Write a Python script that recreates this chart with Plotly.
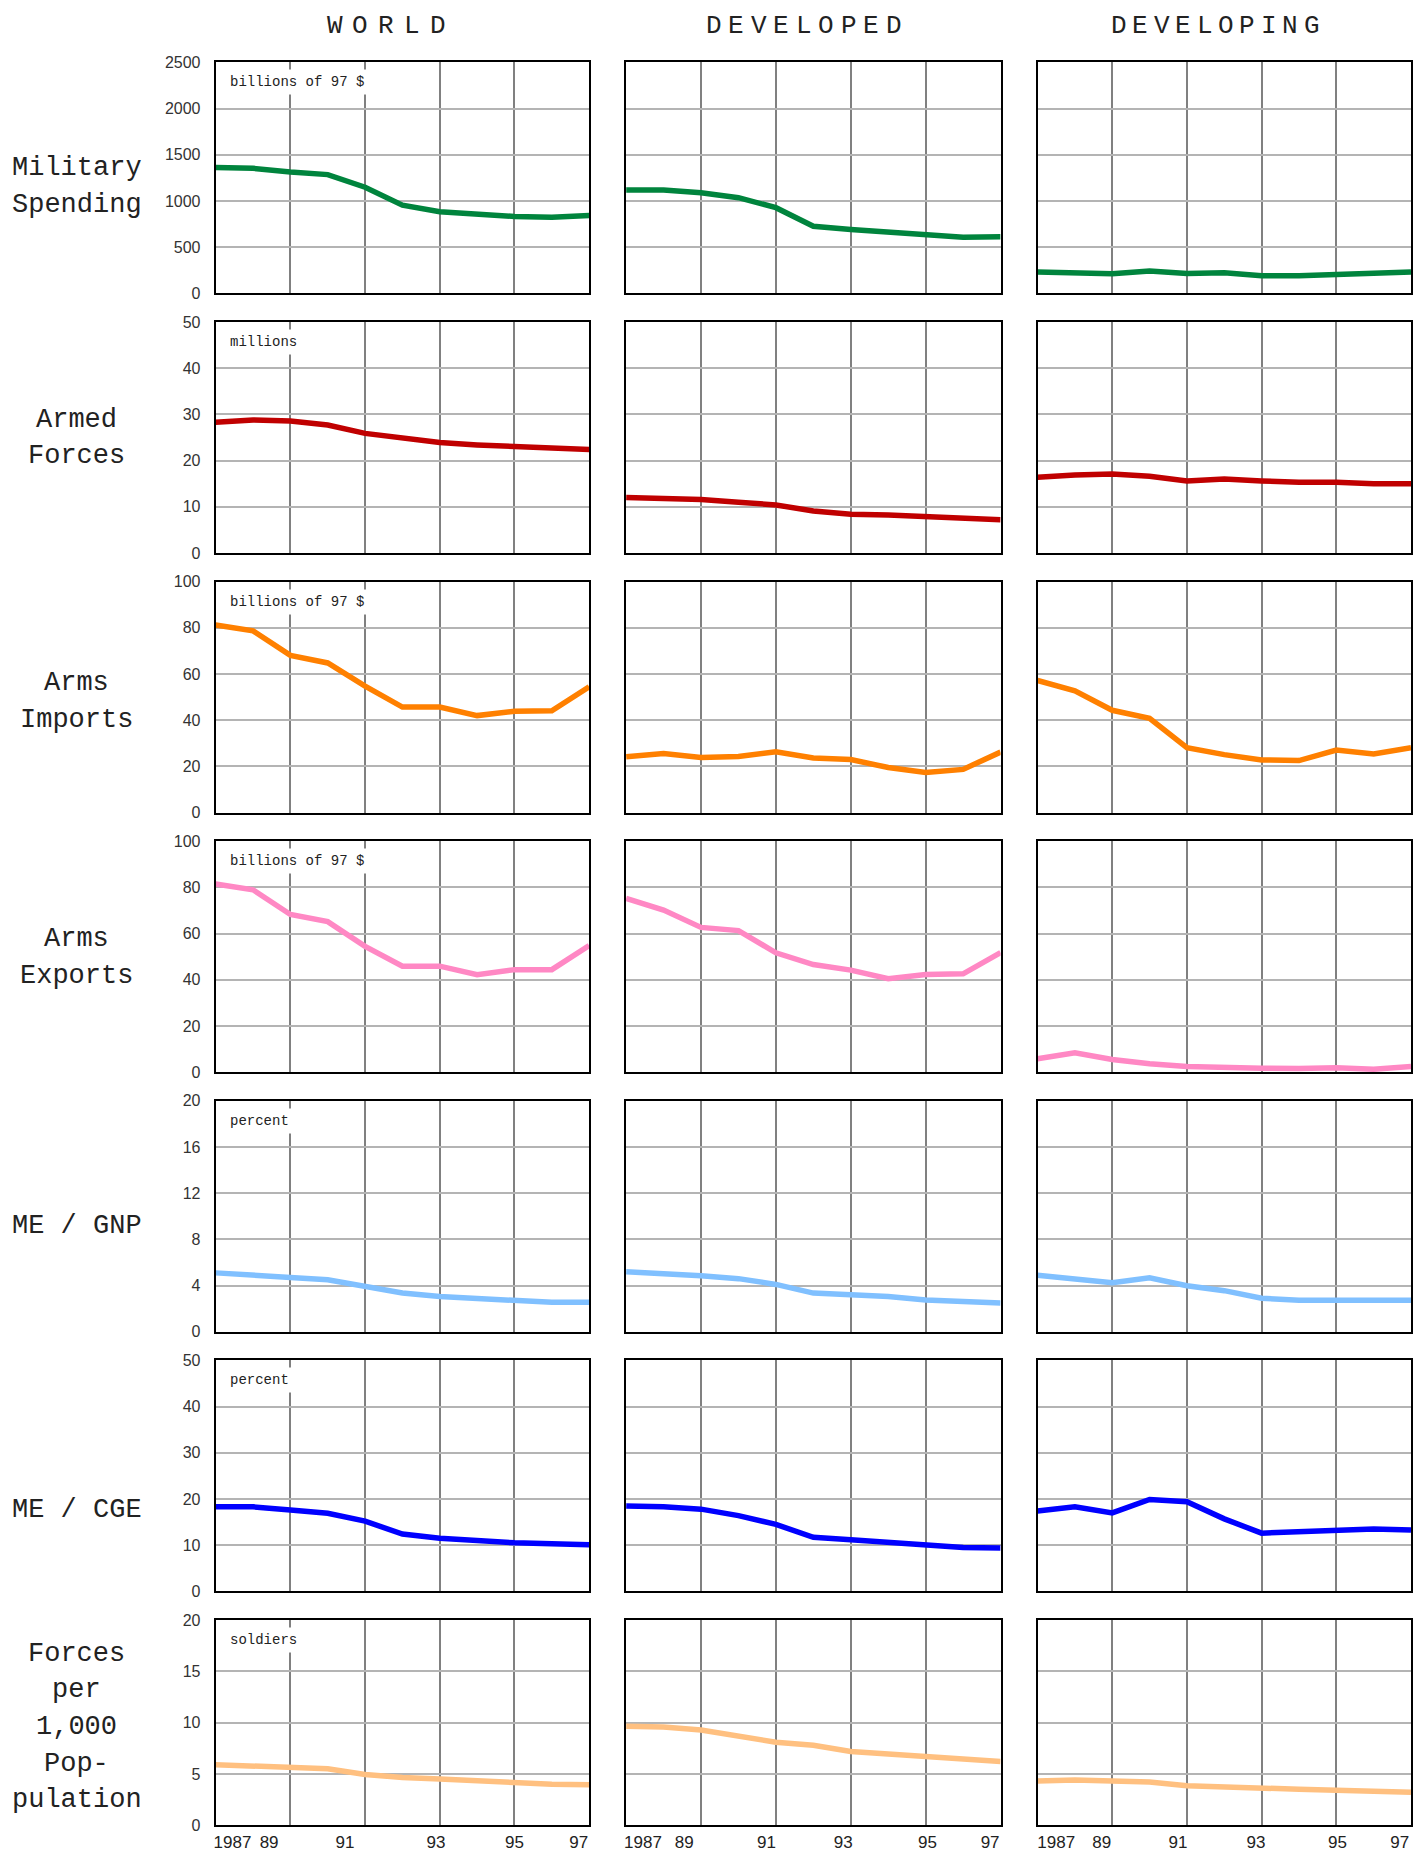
import plotly.graph_objects as go

# ---------------- data ----------------
years = list(range(1987, 1998))

column_names = ["WORLD", "DEVELOPED", "DEVELOPING"]

mil_world = [1362, 1354, 1315, 1286, 1149, 955, 883, 861, 832, 825, 843]
mil_developed = [1119, 1119, 1090, 1036, 928, 727, 691, 662, 626, 608, 612]
mil_developing = [231, 220, 212, 241, 216, 223, 191, 191, 202, 212, 231]

forces_world = [28.3, 28.8, 28.6, 27.7, 25.9, 24.8, 23.9, 23.4, 23.1, 22.6, 22.4]
forces_developed = [12.0, 11.8, 11.6, 11.0, 10.4, 9.1, 8.4, 8.2, 7.9, 7.5, 7.2]
forces_developing = [16.4, 16.9, 17.1, 16.6, 15.6, 16.0, 15.6, 15.3, 15.3, 15.0, 15.0]

imports_world = [81.2, 78.7, 68.1, 64.8, 54.8, 45.7, 45.7, 42.0, 43.9, 44.1, 54.5]
imports_developed = [24.2, 25.6, 23.9, 24.3, 26.3, 23.6, 23.0, 19.5, 17.4, 18.7, 26.2]
imports_developing = [57.2, 52.7, 44.3, 40.8, 28.1, 25.1, 22.8, 22.5, 27.1, 25.4, 28.1]

exports_world = [81.5, 79.0, 68.3, 65.2, 54.5, 45.9, 45.9, 42.2, 44.4, 44.4, 54.8]
exports_developed = [75.3, 70.2, 62.7, 61.3, 51.7, 46.6, 44.2, 40.5, 42.3, 42.6, 51.8]
exports_developing = [5.8, 8.4, 5.5, 3.6, 2.5, 1.9, 1.7, 1.6, 1.9, 1.3, 2.5]

megnp_world = [5.1, 4.95, 4.7, 4.5, 3.95, 3.35, 3.05, 2.85, 2.65, 2.55, 2.55]
megnp_developed = [5.2, 5.05, 4.85, 4.6, 4.1, 3.35, 3.25, 3.05, 2.75, 2.6, 2.5]
megnp_developing = [4.9, 4.57, 4.25, 4.68, 3.99, 3.56, 2.9, 2.73, 2.73, 2.73, 2.73]

mecge_world = [18.3, 18.3, 17.6, 16.9, 15.2, 12.4, 11.5, 10.9, 10.5, 10.3, 10.1]
mecge_developed = [18.5, 18.3, 17.8, 16.4, 14.5, 11.7, 11.2, 10.6, 9.9, 9.5, 9.4]
mecge_developing = [17.4, 18.3, 17.0, 19.9, 19.4, 15.7, 12.6, 12.8, 13.1, 13.5, 13.3]

perk_world = [5.9, 5.8, 5.7, 5.5, 4.95, 4.65, 4.5, 4.3, 4.2, 4.0, 3.95]
perk_developed = [9.64, 9.58, 9.29, 8.67, 8.09, 7.8, 7.18, 6.93, 6.73, 6.41, 6.21]
perk_developing = [4.3, 4.4, 4.3, 4.2, 3.85, 3.7, 3.6, 3.5, 3.4, 3.3, 3.2]

row_titles = [["Military", "Spending"], ["Armed", "Forces"], ["Arms", "Imports"],
              ["Arms", "Exports"], ["ME / GNP"], ["ME / CGE"],
              ["Forces", "per", "1,000", "Pop-", "pulation"]]
row_units = ["billions of 97 $", "millions", "billions of 97 $", "billions of 97 $",
             "percent", "percent", "soldiers"]
row_ymax = [2500, 50, 100, 100, 20, 50, 20]
row_dtick = [500, 10, 20, 20, 4, 10, 5]

xtick_text = ["1987", "89", "91", "93", "95", "97"]
xtick_vals_by_col = [
    [1987.45, 1988.43, 1990.46, 1992.9, 1995.0, 1996.72],
    [1987.45, 1988.55, 1990.75, 1992.8, 1995.05, 1996.72],
    [1987.5, 1988.72, 1990.76, 1992.85, 1995.03, 1996.7],
]
xgrid_vals = [1989, 1991, 1993, 1995]

series = [
    [mil_world, mil_developed, mil_developing],
    [forces_world, forces_developed, forces_developing],
    [imports_world, imports_developed, imports_developing],
    [exports_world, exports_developed, exports_developing],
    [megnp_world, megnp_developed, megnp_developing],
    [mecge_world, mecge_developed, mecge_developing],
    [perk_world, perk_developed, perk_developing],
]

# ---------------- styling / layout ----------------
row_colors = ["#00843d", "#c00000", "#ff8000", "#ff88c4", "#80c0ff", "#0000ff", "#ffc080"]

W, H = 1413, 1854
col_px = [(214, 588), (625, 1000), (1037, 1411)]
row_px = [(55, 288), (317, 550), (579, 812), (841, 1074), (1103, 1336), (1365, 1598), (1627, 1834)]
title_y_px = [180, 434, 700, 958, 1229, 1516, 1735]
title_line_gap = 37
header_cx_px = [385, 803, 1215]
header_step = [26, 22.5, 21.5]

MONO = "Liberation Mono, Courier New, monospace"
SANS = "Liberation Sans, Arial, sans-serif"

fig = go.Figure()
layout = dict(width=W, height=H, margin=dict(l=0, r=0, t=0, b=0),
              paper_bgcolor="white", plot_bgcolor="white", showlegend=False)
annotations = []

for r in range(7):
    for c in range(3):
        idx = r * 3 + c + 1
        sfx = "" if idx == 1 else str(idx)
        fig.add_trace(go.Scatter(
            x=years, y=series[r][c], mode="lines",
            line=dict(color=row_colors[r], width=5.5),
            xaxis="x" + sfx, yaxis="y" + sfx, hoverinfo="skip"))
        x0, x1 = col_px[c]
        y0, y1 = row_px[r]
        layout["xaxis" + sfx] = dict(
            domain=[x0 / W, x1 / W], range=[1987, 1997], anchor="y" + sfx,
            showline=True, mirror=True, linecolor="black", linewidth=2,
            showgrid=False, zeroline=False, ticks="",
            tickmode="array", tickvals=xtick_vals_by_col[c], ticktext=xtick_text,
            showticklabels=(r == 6),
            tickfont=dict(family=SANS, size=17, color="#222"),
            minor=dict(tickmode="array", tickvals=xgrid_vals, showgrid=True,
                       gridcolor="#808080", gridwidth=2, ticks=""),
            fixedrange=True)
        layout["yaxis" + sfx] = dict(
            domain=[1 - y1 / H, 1 - y0 / H], range=[0, row_ymax[r]], anchor="x" + sfx,
            showline=True, mirror=True, linecolor="black", linewidth=2,
            showgrid=True, gridcolor="#b4b4b4", gridwidth=2, zeroline=False,
            tick0=0, dtick=row_dtick[r], ticks="",
            showticklabels=(c == 0), ticklabelstandoff=10,
            tickfont=dict(family=SANS, size=16, color="#333"),
            fixedrange=True)
        if c == 0:
            annotations.append(dict(
                xref="x" + sfx + " domain", yref="y" + sfx + " domain",
                x=0, y=1, xanchor="left", yanchor="top", xshift=9, yshift=-7,
                text=row_units[r], showarrow=False, bgcolor="white", borderpad=4,
                font=dict(family=MONO, size=14, color="#222")))
    lines = row_titles[r]
    n = len(lines)
    for k, line in enumerate(lines):
        ypx = title_y_px[r] + (k - (n - 1) / 2) * title_line_gap
        annotations.append(dict(
            xref="paper", yref="paper", x=75 / W, y=1 - ypx / H,
            xanchor="center", yanchor="middle", text=line, showarrow=False,
            font=dict(family=MONO, size=27, color="#222")))

# letter-spaced column headers
for name, cx, step in zip(column_names, header_cx_px, header_step):
    n = len(name)
    for i, ch in enumerate(name):
        annotations.append(dict(
            xref="paper", yref="paper",
            x=(cx + (i - (n - 1) / 2) * step) / W, y=1 - 18 / H,
            xanchor="center", yanchor="middle", text=ch, showarrow=False,
            font=dict(family=MONO, size=26, color="#222")))

layout["annotations"] = annotations
fig.update_layout(**layout)
fig.write_html("out.html", config={"displayModeBar": False},
               post_script="document.body.style.margin='0';"
                           "document.body.style.overflow='hidden';")
